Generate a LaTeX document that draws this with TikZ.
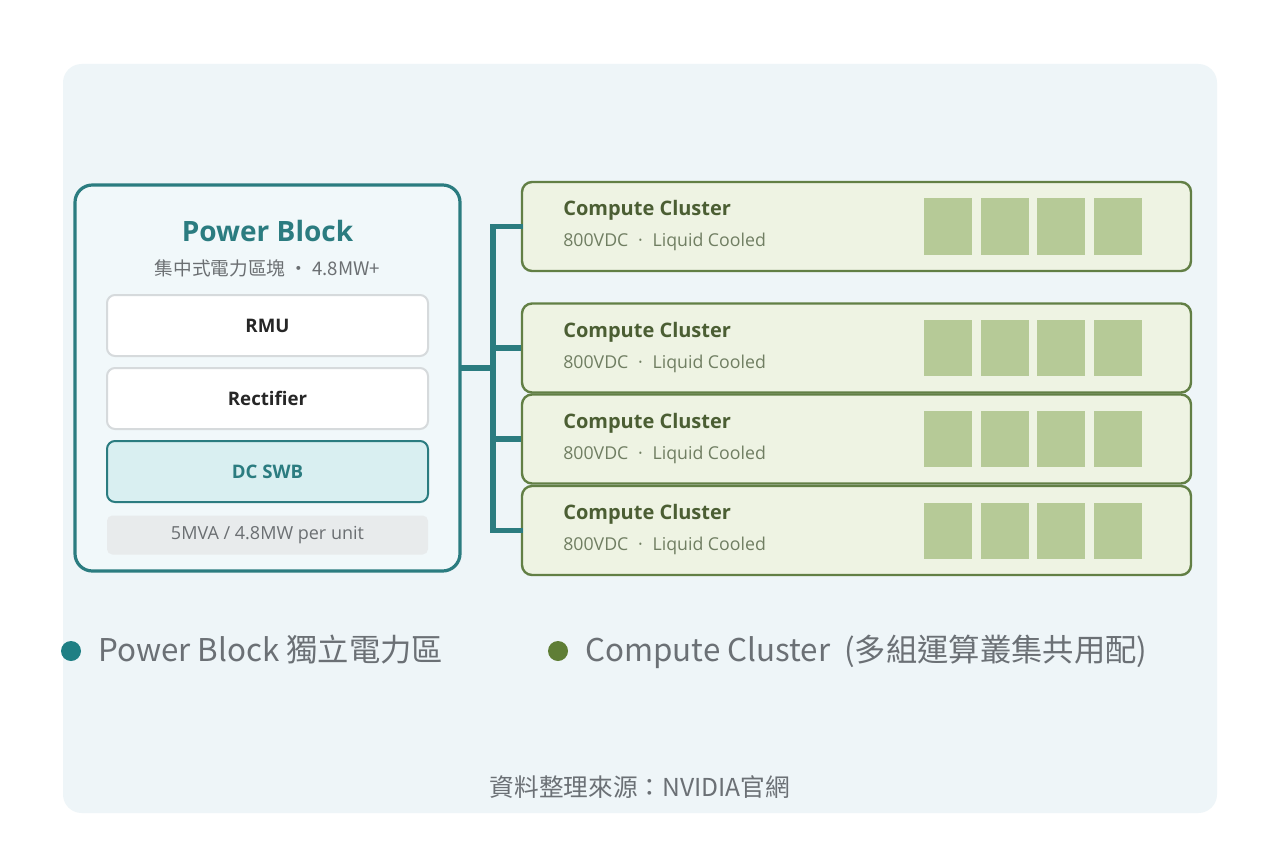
\documentclass[tikz,border=0pt]{standalone}
\usepackage{fontspec}
\setmainfont{Open Sans}
\newfontfamily\cjk{Noto Sans CJK TC}
\definecolor{panelbg}{HTML}{EEF5F8}
\definecolor{teal1}{HTML}{2B7C80}
\definecolor{pbfill}{HTML}{F1F8FA}
\definecolor{swbfill}{HTML}{D9EFF1}
\definecolor{boxline}{HTML}{D6DADC}
\definecolor{grayfill}{HTML}{E8EBEC}
\definecolor{graytxt}{HTML}{6B6F72}
\definecolor{clfill}{HTML}{EEF3E3}
\definecolor{clline}{HTML}{627F45}
\definecolor{cltitle}{HTML}{4B5E33}
\definecolor{clsub}{HTML}{707E62}
\definecolor{sqfill}{HTML}{B6CA97}
\definecolor{legtxt}{HTML}{6B7075}
\definecolor{dotgreen}{HTML}{5F7E36}
\definecolor{dotteal}{HTML}{1F7F84}
\tikzset{
  inbox/.style={draw=boxline, line width=1.5pt, fill=white, rounded corners=6pt, minimum width=240.75pt, minimum height=45.75pt, font=\bfseries\fontsize{14}{16}\selectfont, text=black!85},
  clbox/.style={draw=clline, line width=1.8pt, fill=clfill, rounded corners=7.5pt, minimum width=501.75pt, minimum height=66.75pt},
  sq/.style={fill=sqfill, minimum width=36pt, minimum height=42pt, inner sep=0pt},
  bus/.style={draw=teal1, line width=3.8pt},
  cltitlestyle/.style={anchor=base west, inner sep=0pt, font=\bfseries\fontsize{15}{17}\selectfont, text=cltitle},
  clsubstyle/.style={anchor=base west, inner sep=0pt, font=\fontsize{13.3}{15}\selectfont, text=clsub},
  legstyle/.style={anchor=base west, inner sep=0pt, font=\cjk\fontsize{23.5}{26}\selectfont, text=legtxt}
}
\begin{document}
\begin{tikzpicture}[x=0.75pt,y=-0.75pt]
\useasboundingbox (0,0) rectangle (1280,852);
\fill[white] (0,0) rectangle (1280,852);
\node[fill=panelbg, rounded corners=14pt, minimum width=865.5pt, minimum height=561.75pt, inner sep=0pt] (panel) at (640,438.5) {};

% Power block
\node[draw=teal1, line width=2.4pt, fill=pbfill, rounded corners=13pt, minimum width=288.75pt, minimum height=289.5pt, inner sep=0pt] (pb) at (267.5,378) {};
\node[font=\bfseries\fontsize{21}{24}\selectfont, text=teal1] (pbtitle) at (267.5,231) {Power Block};
\node[font=\cjk\fontsize{14}{16}\selectfont, text=graytxt] (pbsub) at (267.5,268) {集中式電力區塊 · 4.8MW+};
\node[inbox] (rmu) at (267.5,325.5) {RMU};
\node[inbox] (rect) at (267.5,398.5) {Rectifier};
\node[inbox, draw=teal1, fill=swbfill, text=teal1] (swb) at (267.5,471.5) {DC SWB};
\node[fill=grayfill, rounded corners=4pt, minimum width=240.75pt, minimum height=29.25pt, inner sep=0pt, text=graytxt, font=\fontsize{13.5}{15}\selectfont] (unit) at (267.5,535) {5MVA / 4.8MW per unit};

% Clusters
\node[clbox] (c1) at (856.5,226.5) {};
\node[clbox] (c2) at (856.5,348) {};
\node[clbox] (c3) at (856.5,439) {};
\node[clbox] (c4) at (856.5,530.5) {};
\foreach \c/\y in {c1/226.5, c2/348, c3/439, c4/530.5}{
  \node[cltitlestyle] (\c-t) at (563,\y-11) {Compute Cluster};
  \node[clsubstyle] (\c-s) at (563,\y+20) {800VDC\hspace{0.55em}·\hspace{0.55em}Liquid Cooled};
  \foreach \k/\x in {1/948, 2/1005, 3/1061, 4/1118}{
    \node[sq] (\c-q\k) at (\x,\y) {};
  }
}

% Bus connectors
\coordinate (pbout) at (461,368);
\coordinate (j) at (493,368);
\coordinate (bt) at (493,226.5);
\coordinate (bb) at (493,530.5);
\draw[bus] (pbout) -- (j);
\draw[bus, line cap=rect] (c1.west) -- (bt) -- (bb) -- (c4.west);
\draw[bus] (c2.west -| bt) -- (c2.west);
\draw[bus] (c3.west -| bt) -- (c3.west);

% Legend
\node[circle, fill=dotteal, minimum size=15pt, inner sep=0pt] (d1) at (71,651) {};
\node[legstyle] (l1) at (98,661) {Power Block 獨立電力區};
\node[circle, fill=dotgreen, minimum size=15pt, inner sep=0pt] (d2) at (558,651) {};
\node[legstyle] (l2) at (585,661) {Compute Cluster \ (多組運算叢集共用配)};

% Footer
\node[font=\cjk\fontsize{18.5}{21}\selectfont, text=legtxt] (src) at (640,787) {資料整理來源：NVIDIA官網};
\end{tikzpicture}
\end{document}
